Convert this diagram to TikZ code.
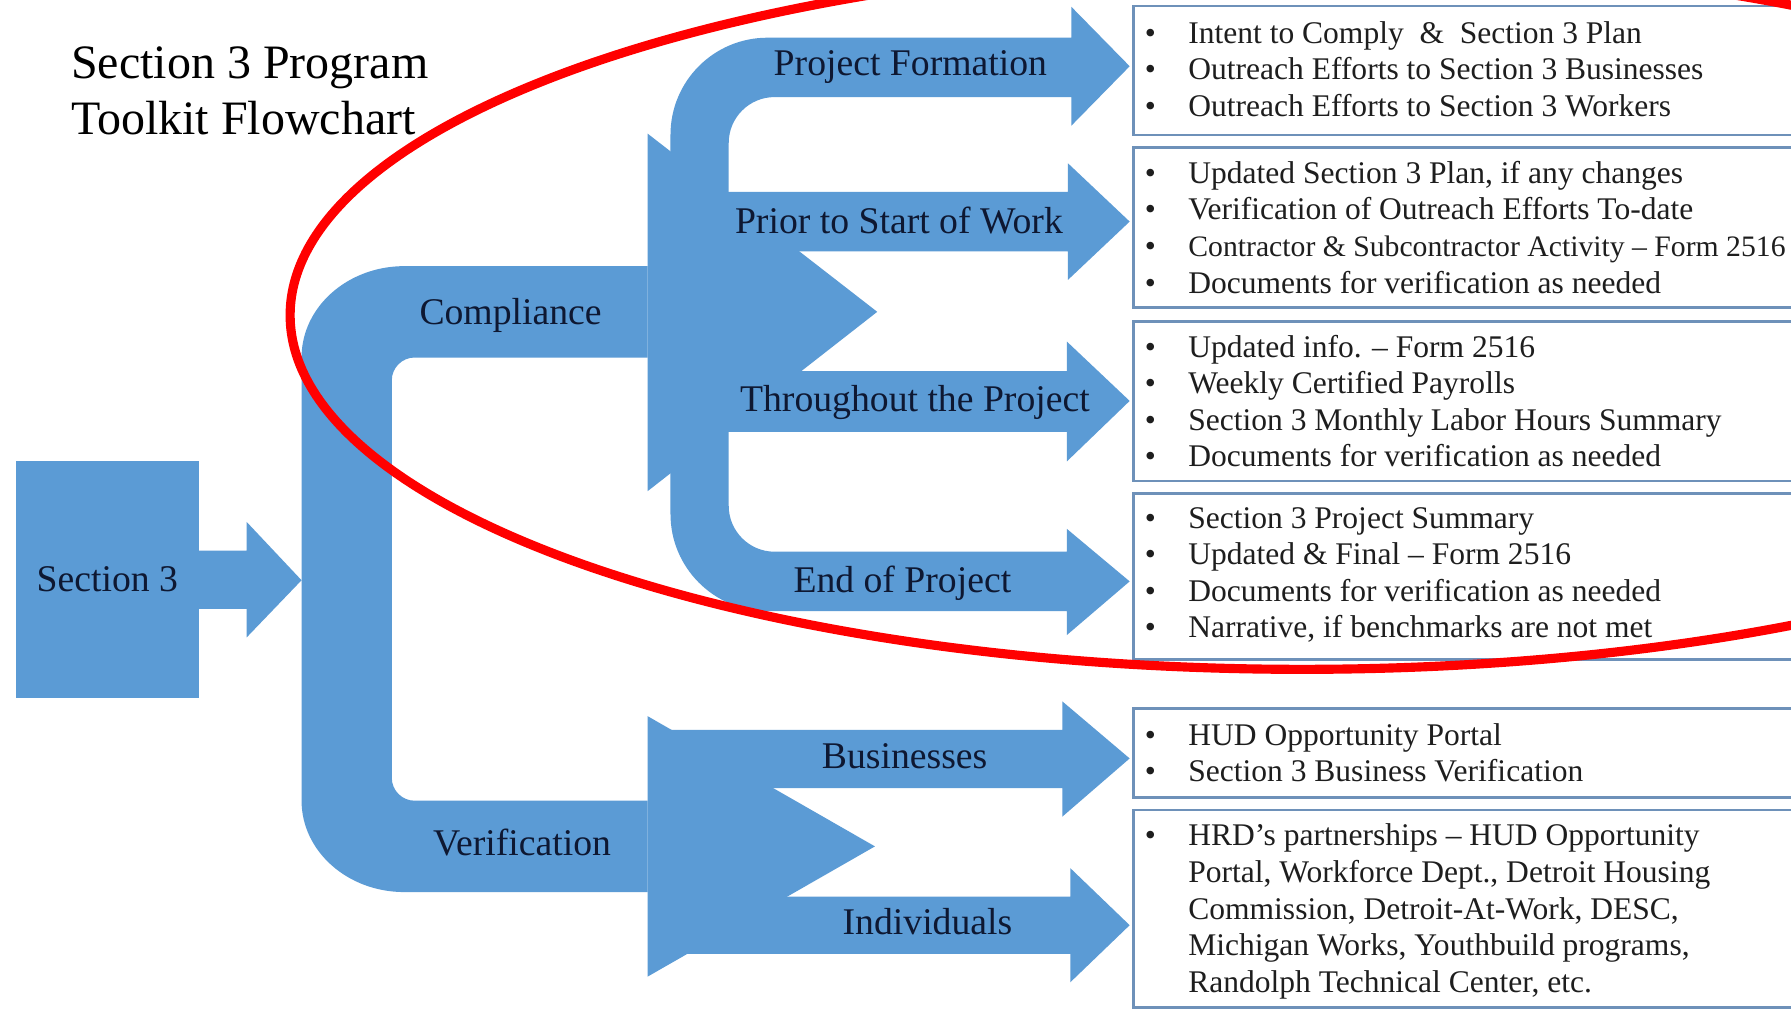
\documentclass[tikz,border=0pt]{standalone}
\usepackage{fontspec}
\setmainfont{Liberation Serif}
\definecolor{flow}{RGB}{91,155,213}
\definecolor{navy}{RGB}{14,24,50}
\definecolor{boxline}{RGB}{110,145,185}
\definecolor{ringred}{RGB}{255,0,0}
\definecolor{textgray}{RGB}{30,30,30}
\newcommand\bl[1]{\makebox[19pt][l]{\textbullet}#1}
\newcommand\indl[1]{\hspace*{19pt}#1}
\begin{document}
\begin{tikzpicture}[x=0.5pt,y=-0.5pt,
  lbl/.style={font=\fontsize{16.5}{19}\selectfont,text=navy,inner sep=0pt,anchor=base},
  listbox/.style={draw=boxline,line width=1.2pt,fill=white,anchor=north west,minimum width=310pt,inner sep=0pt},
  listtext/.style={font=\fontsize{13.8}{16}\selectfont,text=textgray,inner sep=0pt,anchor=west,align=left},
  titletext/.style={font=\fontsize{21}{24}\selectfont,inner sep=0pt,anchor=base west}]
\useasboundingbox (0,0) rectangle (1568,883);
\fill[white] (0,0) rectangle (1568,883);
\clip (0,0) rectangle (1568,883);

% title
\node[titletext] (title1) at (62,69) {Section 3 Program};
\node[titletext] (title2) at (62,118) {Toolkit Flowchart};

% right-hand boxes
\node[listbox,minimum height=56.5pt] (b1) at (991,4) {};
\node[listbox,minimum height=70pt] (b2) at (991,128) {};
\node[listbox,minimum height=70pt] (b3) at (991,280) {};
\node[listbox,minimum height=72.5pt] (b4) at (991,431) {};
\node[listbox,minimum height=39pt] (b5) at (991,619) {};
\node[listbox,minimum height=86.5pt] (b6) at (991,708) {};

% Section 3 block
\node[fill=flow,minimum width=80pt,minimum height=103.5pt,inner sep=0pt,
      font=\fontsize{16.5}{19}\selectfont,text=navy] (s3) at (94,507.5) {Section 3};
\fill[flow] (170,482) -- (216,482) -- (216,457) -- (264,508) -- (216,558) -- (216,533) -- (170,533) -- cycle;

% main trunk with Compliance and Verification bands
\fill[flow] (567,233) -- (354,233) .. controls (304.3,233) and (264,268.8) .. (264,313)
  -- (264,701) .. controls (264,745.2) and (304.3,781) .. (354,781) -- (567,781) -- (567,701)
  -- (363,701) .. controls (352,701) and (343,692) .. (343,681)
  -- (343,333) .. controls (343,322) and (352,313) .. (363,313) -- (567,313) -- cycle;
\fill[flow] (567,117) -- (768,273) -- (567,430) -- cycle;
\fill[flow] (567,627) -- (766,741) -- (567,855) -- cycle;

% compliance sub-trunk with Project Formation and End of Project arrows
\fill[flow] (587,450) -- (587,118) .. controls (587,71) and (625,33) .. (672,33)
  -- (938,33) -- (938,6) -- (989,58) -- (938,110) -- (938,85)
  -- (678,85) .. controls (656,85) and (638,103) .. (638,125)
  -- (638,443) .. controls (638,465) and (656,483) .. (678,483)
  -- (934,483) -- (934,463) -- (989,509) -- (934,556) -- (934,535)
  -- (672,535) .. controls (625,535) and (587,497) .. (587,450) -- cycle;
\fill[flow] (600,168) -- (935,168) -- (935,143) -- (989,194) -- (935,245) -- (935,220) -- (600,220) -- cycle;
\fill[flow] (600,325) -- (934,325) -- (934,299) -- (989,351) -- (934,404) -- (934,378) -- (600,378) -- cycle;
\fill[flow] (580,639) -- (930,639) -- (930,614) -- (989,664) -- (930,715) -- (930,690) -- (580,690) -- cycle;
\fill[flow] (580,785) -- (937,785) -- (937,760) -- (989,810) -- (937,860) -- (937,835) -- (580,835) -- cycle;

% labels
\node[lbl] (lcomp) at (447,284) {Compliance};
\node[lbl] (lver) at (457,749) {Verification};
\node[lbl] (lform) at (797,66) {Project Formation};
\node[lbl] (lprior) at (787,204) {Prior to Start of Work};
\node[lbl] (lthr) at (801,360) {Throughout the Project};
\node[lbl] (lend) at (790,519) {End of Project};
\node[lbl] (lbus) at (792,673) {Businesses};
\node[lbl] (lind) at (812,818) {Individuals};

% box texts
\node[listtext] (t1) at (1002,60.5) {\bl{Intent to Comply\ \ \&\ \ Section 3 Plan}\\
  \bl{Outreach Efforts to Section 3 Businesses}\\
  \bl{Outreach Efforts to Section 3 Workers}};
\node[listtext] (t2) at (1002,199) {\bl{Updated Section 3 Plan, if any changes}\\
  \bl{Verification of Outreach Efforts To-date}\\
  \bl{{\fontsize{13}{16}\selectfont Contractor \& Subcontractor Activity – Form 2516}}\\
  \bl{Documents for verification as needed}};
\node[listtext] (t3) at (1002,351) {\bl{Updated info. – Form 2516}\\
  \bl{Weekly Certified Payrolls}\\
  \bl{Section 3 Monthly Labor Hours Summary}\\
  \bl{Documents for verification as needed}};
\node[listtext] (t4) at (1002,503.5) {\bl{Section 3 Project Summary}\\
  \bl{Updated \& Final – Form 2516}\\
  \bl{Documents for verification as needed}\\
  \bl{Narrative, if benchmarks are not met}};
\node[listtext] (t5) at (1002,659) {\bl{HUD Opportunity Portal}\\
  \bl{Section 3 Business Verification}};
\node[listtext] (t6) at (1002,798) {\bl{HRD’s partnerships – HUD Opportunity}\\
  \indl{Portal, Workforce Dept., Detroit Housing}\\
  \indl{Commission, Detroit-At-Work, DESC,}\\
  \indl{Michigan Works, Youthbuild programs,}\\
  \indl{Randolph Technical Center, etc.}};

% red ring
\draw[ringred,line width=4pt] (1140,276) ellipse [x radius=443pt, y radius=155pt];
\end{tikzpicture}
\end{document}
